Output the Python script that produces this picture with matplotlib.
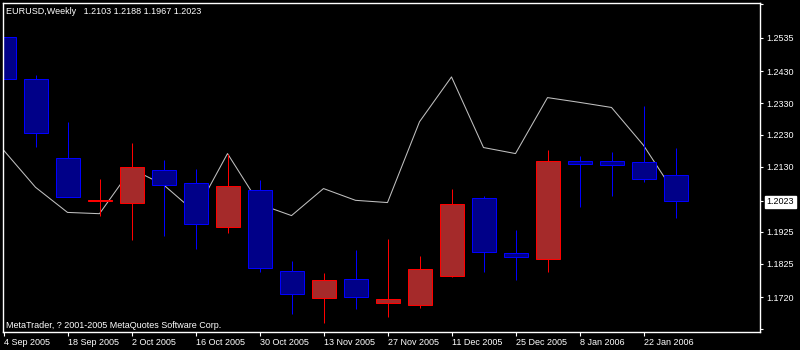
import matplotlib.pyplot as plt
import numpy as np

plt.rcParams['font.family'] = ['Liberation Sans', 'DejaVu Sans']
FONT_SIZE = 6.5

# weekly EURUSD candles
week_labels = [
    "4 Sep 2005", "11 Sep 2005", "18 Sep 2005", "25 Sep 2005", "2 Oct 2005",
    "9 Oct 2005", "16 Oct 2005", "23 Oct 2005", "30 Oct 2005", "6 Nov 2005",
    "13 Nov 2005", "20 Nov 2005", "27 Nov 2005", "4 Dec 2005", "11 Dec 2005",
    "18 Dec 2005", "25 Dec 2005", "1 Jan 2006", "8 Jan 2006", "15 Jan 2006",
    "22 Jan 2006", "29 Jan 2006",
]
opens = [1.2536, 1.2404, 1.2156, 1.2022, 1.2016, 1.2118, 1.2077, 1.1940,
         1.2058, 1.1803, 1.1718, 1.1778, 1.1701, 1.1695, 1.1786, 1.2030,
         1.1857, 1.1840, 1.2147, 1.2149, 1.2143, 1.2103]
highs = [1.2536, 1.2418, 1.2270, 1.2090, 1.2203, 1.2152, 1.2121, 1.2171,
         1.2089, 1.1832, 1.1794, 1.1867, 1.1902, 1.1848, 1.2059, 1.2037,
         1.1930, 1.2182, 1.2163, 1.2175, 1.2322, 1.2188]
lows = [1.2406, 1.2192, 1.2033, 1.1975, 1.1898, 1.1911, 1.1870, 1.1921,
        1.1799, 1.1668, 1.1638, 1.1682, 1.1657, 1.1687, 1.1783, 1.1799,
        1.1775, 1.1799, 1.2003, 1.2038, 1.2082, 1.1967]
closes = [1.2406, 1.2236, 1.2035, 1.2026, 1.2128, 1.2072, 1.1951, 1.2068,
          1.1812, 1.1729, 1.1772, 1.1720, 1.1715, 1.1809, 1.2012, 1.1863,
          1.1846, 1.2149, 1.2139, 1.2135, 1.2091, 1.2023]

# grey indicator line
line_values = [1.2182, 1.2065, 1.1986, 1.1982, 1.2123, 1.2073, 1.1986, 1.2171,
               1.2012, 1.1976, 1.2061, 1.2024, 1.2017, 1.2271, 1.2412, 1.2190,
               1.2171, 1.2347, 1.2332, 1.2316, 1.2197, 1.2043]

price_ticks = [1.2640, 1.2535, 1.2430, 1.2330, 1.2230, 1.2130, 1.2023,
               1.1925, 1.1825, 1.1720, 1.1620]
price_labels = ["", "1.2535", "1.2430", "1.2330", "1.2230", "1.2130", "1.2023",
                "1.1925", "1.1825", "1.1720", ""]

opens = np.array(opens)
closes = np.array(closes)
x = np.arange(len(opens))
bull = closes >= opens

fig = plt.figure(figsize=(8, 3.5), dpi=100, facecolor='black')
# 32 px per week, candle centres on pixel centres
ax = fig.add_axes([3 / 800, 18 / 350, 757 / 800, 329.5 / 350])
ax.set_facecolor('black')

ax.plot(x, line_values, color='#c0c0c0', linewidth=0.75, zorder=1)

wick_colors = np.where(bull, '#ff0000', '#0000ff')
ax.vlines(x, lows, highs, colors=wick_colors, linewidth=0.72, zorder=2)

body_bottom = np.minimum(opens, closes)
body_height = np.abs(closes - opens)
ax.bar(x, body_height, bottom=body_bottom, width=0.75,
       color=np.where(bull, '#a52a2a', '#000088'),
       edgecolor=wick_colors, linewidth=0.72, zorder=3)

ax.set_xlim(-0.5 / 32, 756.5 / 32)
ax.set_ylim(1.1610, 1.2646)

for side in ['left', 'right', 'top', 'bottom']:
    ax.spines[side].set_color('white')
    ax.spines[side].set_linewidth(1.0)
    ax.spines[side].set_zorder(5)

ax.yaxis.tick_right()
ax.set_yticks(price_ticks)
ylabels = ax.set_yticklabels(price_labels)
ax.tick_params(axis='y', colors='white', length=2.3, width=0.8, pad=2.5,
               labelsize=FONT_SIZE)
ylabels[6].set_color('black')
ylabels[6].set_bbox(dict(facecolor='white', edgecolor='white', pad=1.2))

ax.set_xticks(x[::2])
ax.set_xticklabels(week_labels[::2], ha='left')
ax.tick_params(axis='x', colors='white', length=3, width=0.8, pad=1,
               labelsize=FONT_SIZE)

fig.text(6 / 800, 1 - 11 / 350, "EURUSD,Weekly   1.2103 1.2188 1.1967 1.2023",
         color='white', fontsize=FONT_SIZE, va='center', ha='left')
fig.text(5.5 / 800, 1 - 325 / 350, "MetaTrader, ? 2001-2005 MetaQuotes Software Corp.",
         color='white', fontsize=FONT_SIZE, va='center', ha='left')

plt.savefig("out.png", dpi=100, facecolor='black')
